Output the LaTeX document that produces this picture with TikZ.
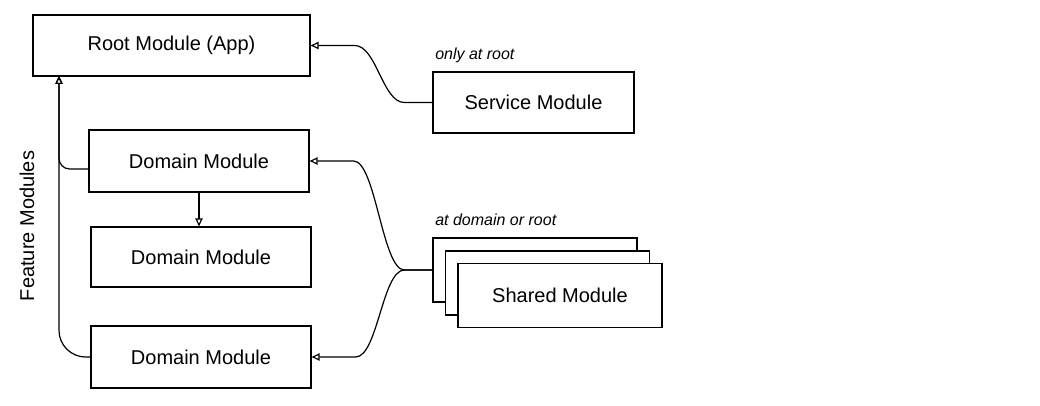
\documentclass[tikz,border=0pt]{standalone}
\usepackage{fontspec}
\setmainfont{Liberation Sans}
\usetikzlibrary{arrows.meta,positioning}

\tikzset{
    modbox/.style={draw, line width=0.9pt, fill=white, inner sep=0pt,
        font=\fontsize{15}{18}\selectfont},
    conn/.style={line width=0.9pt, -{Triangle[open, length=6pt, width=5.5pt]}},
    note/.style={font=\fontsize{12}{14}\selectfont\itshape, inner sep=0pt}
}

\begin{document}
\begin{tikzpicture}[x=0.75pt, y=-0.75pt]
    \useasboundingbox (0,0) rectangle (1040,406);
    % modules
    \node[modbox, minimum width=207.75pt, minimum height=45.75pt] (root) at (171.5,45.5) {Root Module (App)};
    \node[modbox, minimum width=150.75pt, minimum height=45.75pt] (svc) at (533.5,102.5) {Service Module};
    \node[modbox, minimum width=165pt, minimum height=46.5pt] (dom1) at (199,161) {Domain Module};
    \node[modbox, minimum width=165pt, minimum height=45pt] (dom2) at (201,257) {Domain Module};
    \node[modbox, minimum width=165pt, minimum height=46.5pt] (dom3) at (201,357) {Domain Module};
    % shared stack
    \node[modbox, minimum width=153pt, minimum height=48pt] (shr3) at (535,270) {};
    \node[modbox, minimum width=153pt, minimum height=48pt] (shr2) at (547.5,283) {};
    \node[modbox, minimum width=153pt, minimum height=48pt] (shr1) at (560,295.5) {Shared Module};
    % labels
    \node[note, anchor=base west] (svcnote) at (435,60) {only at root};
    \node[note, anchor=base west] (shrnote) at (435,226) {at domain or root};
    \node[rotate=90, font=\fontsize{15}{18}\selectfont] (feat) at (27,226) {Feature Modules};
    \coordinate (rootin) at (59,76);
    % connectors
    \draw[conn] (svc.west) -- ++(-28,0) .. controls +(-22,0) and +(22,0) .. ([xshift=33]root.east) -- (root.east);
    \draw[conn] (dom1.south) -- (dom1.south |- dom2.north);
    \draw[conn, rounded corners=8] ([yshift=-6pt]dom1.west) -| (rootin);
    \draw[conn, rounded corners=20] (dom3.west) -| (rootin);
    \draw[conn] (shr3.west) -- ++(-28,0) .. controls +(-22,0) and +(22,0) .. ([xshift=33]dom1.east) -- (dom1.east);
    \draw[conn] (shr3.west) -- ++(-28,0) .. controls +(-22,0) and +(22,0) .. ([xshift=33]dom3.east) -- (dom3.east);
\end{tikzpicture}
\end{document}
